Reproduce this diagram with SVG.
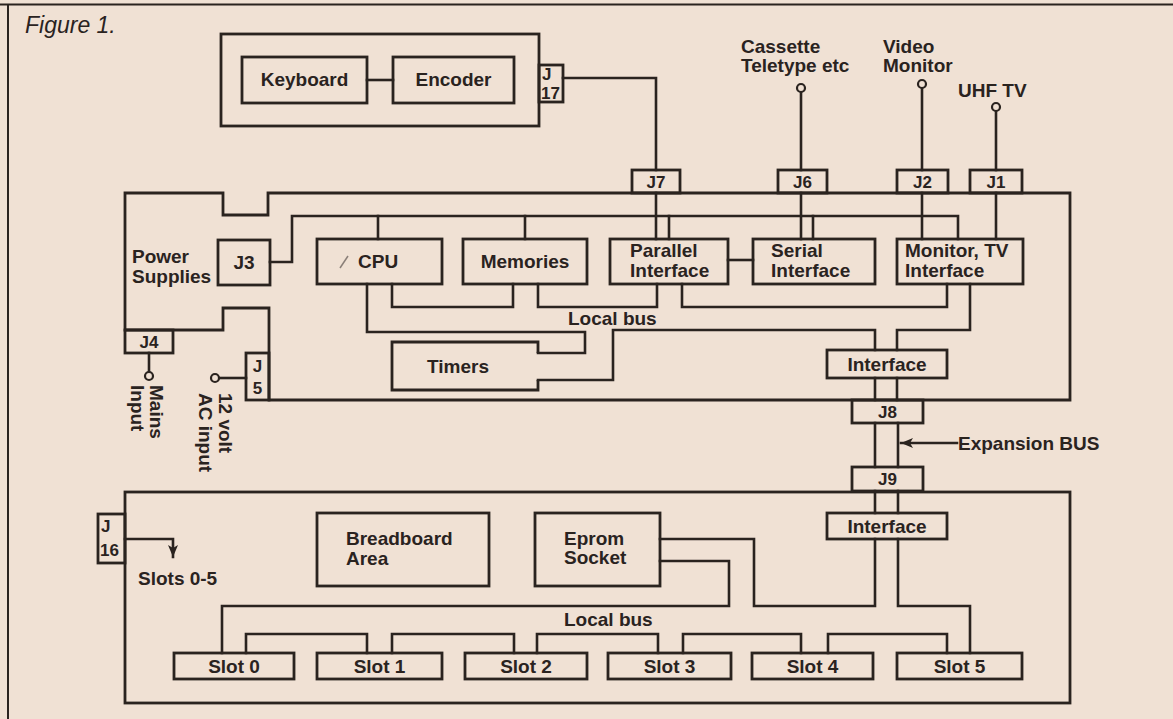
<svg xmlns="http://www.w3.org/2000/svg" width="1173" height="719" viewBox="0 0 1173 719">
<style>
.bg{fill:#f0e1d4}
.ln{fill:none;stroke:#2a231f;stroke-width:2.6;stroke-linejoin:miter;stroke-linecap:square}
.bx{fill:none;stroke:#2a231f;stroke-width:2.8}
.fr{fill:none;stroke:#2a231f;stroke-width:2}
.t{font-family:"Liberation Sans",Arial,Helvetica,sans-serif;font-weight:bold;font-size:19px;fill:#2a231f}
.c{text-anchor:middle}
.j{font-size:17px}
.fig{font-family:"Liberation Sans",Arial,Helvetica,sans-serif;font-style:italic;font-size:23px;fill:#2a231f}
.term{fill:#f0e1d4;stroke:#2a231f;stroke-width:2.2}
</style>
<defs>
<marker id="arr" viewBox="0 0 12 10" refX="12" refY="5" markerWidth="12" markerHeight="10" markerUnits="userSpaceOnUse" orient="auto">
<path d="M0,0 L12,5 L0,10 L3,5 Z" fill="#2a231f"/>
</marker>
</defs>
<rect class="bg" x="0" y="0" width="1173" height="719"/>
<g id="frame">
<path class="fr" d="M0,4.5 H1173 M8,4.5 V719"/>
<text class="fig" x="25" y="33">Figure 1.</text>
</g>

<g id="connectors">
<!-- keyboard to encoder -->
<path class="ln" d="M367,80 H393"/>
<!-- J17 to J7 -->
<path class="ln" d="M563,78 H656 V170"/>
<!-- external terminals -->
<path class="ln" d="M801,92 V170"/>
<path class="ln" d="M922,88 V170"/>
<path class="ln" d="M996,111 V170"/>
<!-- J signal lines into the board -->
<path class="ln" d="M656,193 V239"/>
<path class="ln" d="M801,193 V239"/>
<path class="ln" d="M922,193 V239"/>
<path class="ln" d="M996,193 V239"/>
<!-- power bus from J3 -->
<path class="ln" d="M270,262 H292 V216 H958 V239"/>
<path class="ln" d="M378,216 V239 M525,216 V239 M669,216 V239 M813,216 V239"/>
<!-- parallel to serial -->
<path class="ln" d="M728,260 H753"/>
<!-- local bus upper -->
<path class="ln" d="M392,284 V307 H513 V284"/>
<path class="ln" d="M538,284 V307 H657 V284"/>
<path class="ln" d="M682,284 V307 H947 V284"/>
<path class="ln" d="M367,284 V332 H585 V353 H538"/>
<path class="ln" d="M538,380 H613 V330 H875 V350"/>
<path class="ln" d="M970,284 V330 H897 V350"/>
<!-- expansion bus -->
<path class="ln" d="M875,378 V400 M897,378 V400"/>
<path class="ln" d="M875,423 V467 M898,423 V467"/>
<path class="ln" d="M875,491 V513 M898,491 V513"/>
<path class="ln" d="M957,443 H901" marker-end="url(#arr)"/>
<!-- J4, J5 -->
<path class="ln" d="M149,353 V372"/>
<path class="ln" d="M246,378 H219"/>
<!-- J16 arrow -->
<path class="ln" d="M125,539 H173 V557" marker-end="url(#arr)"/>
<!-- lower local bus -->
<path class="ln" d="M660,539 H754 V606 H875 V539"/>
<path class="ln" d="M660,561 H729 V606 H222 V653"/>
<path class="ln" d="M898,539 V606 H970 V653"/>
<path class="ln" d="M246,653 V634 H367 V653"/>
<path class="ln" d="M392,653 V634 H514 V653"/>
<path class="ln" d="M537,653 V634 H658 V653"/>
<path class="ln" d="M683,653 V634 H801 V653"/>
<path class="ln" d="M828,653 V634 H947 V653"/>
</g>

<g id="keyboard-unit"><rect class="bx" x="221" y="34" width="318" height="92"/></g>
<g id="keyboard"><rect class="bx" x="242" y="57" width="125" height="46"/><text class="t c" x="304.5" y="86">Keyboard</text></g>
<g id="encoder"><rect class="bx" x="393" y="57" width="121" height="46"/><text class="t c" x="453.5" y="86">Encoder</text></g>
<g id="j17"><rect class="bx" x="539" y="65" width="24" height="37"/><text class="t j" x="542" y="80">J</text><text class="t j" x="541" y="99">17</text></g>

<g id="terminals">
<circle class="term" cx="801" cy="88" r="4"/>
<circle class="term" cx="922" cy="84" r="4"/>
<circle class="term" cx="996" cy="107" r="4"/>
<circle class="term" cx="149" cy="376" r="4"/>
<circle class="term" cx="215" cy="378" r="4"/>
<text class="t" x="741" y="53">Cassette</text>
<text class="t" x="741" y="72">Teletype etc</text>
<text class="t" x="883" y="53">Video</text>
<text class="t" x="883" y="72">Monitor</text>
<text class="t" x="958" y="97">UHF TV</text>
<text class="t" transform="translate(150,385) rotate(90)">Mains</text>
<text class="t" transform="translate(131,385) rotate(90)">Input</text>
<text class="t" transform="translate(219,393) rotate(90)">12 volt</text>
<text class="t" transform="translate(199,393) rotate(90)">AC input</text>
</g>

<g id="j7"><rect class="bx" x="632" y="170" width="48" height="23"/><text class="t j c" x="656" y="188">J7</text></g>
<g id="j6"><rect class="bx" x="778" y="170" width="49" height="23"/><text class="t j c" x="802.5" y="188">J6</text></g>
<g id="j2"><rect class="bx" x="897" y="170" width="51" height="23"/><text class="t j c" x="922.5" y="188">J2</text></g>
<g id="j1"><rect class="bx" x="970" y="170" width="52" height="23"/><text class="t j c" x="996" y="188">J1</text></g>

<g id="main-board">
<path class="bx" d="M125,193 H223 V215 H268 V193 H1070 V400 H269 V308 H223 V330 H125 Z"/>
<text class="t" x="132" y="263">Power</text>
<text class="t" x="132" y="283">Supplies</text>
</g>
<g id="j3"><rect class="bx" x="218" y="240" width="52" height="45"/><text class="t c" x="244" y="269">J3</text></g>
<g id="j4"><rect class="bx" x="125" y="330" width="48" height="23"/><text class="t j c" x="149" y="348">J4</text></g>
<g id="j5"><rect class="bx" x="246" y="353" width="23" height="47"/><text class="t j c" x="257.5" y="372">J</text><text class="t j c" x="257.5" y="394">5</text></g>

<g id="cpu"><rect class="bx" x="317" y="239" width="125" height="45"/><path d="M340,268 L348,256" stroke="#8a7f78" stroke-width="1.5"/><text class="t" x="358" y="268">CPU</text></g>
<g id="memories"><rect class="bx" x="463" y="239" width="124" height="45"/><text class="t c" x="525" y="268">Memories</text></g>
<g id="parallel"><rect class="bx" x="610" y="239" width="118" height="45"/><text class="t" x="630" y="257">Parallel</text><text class="t" x="630" y="277">Interface</text></g>
<g id="serial"><rect class="bx" x="753" y="239" width="122" height="45"/><text class="t" x="771" y="257">Serial</text><text class="t" x="771" y="277">Interface</text></g>
<g id="monitor"><rect class="bx" x="897" y="239" width="126" height="45"/><text class="t" x="905" y="257">Monitor, TV</text><text class="t" x="905" y="277">Interface</text></g>
<g id="local-bus-label"><text class="t" x="568" y="325">Local bus</text></g>
<g id="timers"><path class="bx" d="M538,353 V342 H392 V390 H538 V380"/><text class="t c" x="458" y="373">Timers</text></g>
<g id="interface-main"><rect class="bx" x="827" y="350" width="120" height="28"/><text class="t c" x="887" y="371">Interface</text></g>
<g id="j8"><rect class="bx" x="852" y="400" width="71" height="23"/><text class="t j c" x="887.5" y="418">J8</text></g>
<g id="expansion-bus-label"><text class="t" x="958" y="450">Expansion BUS</text></g>
<g id="j9"><rect class="bx" x="852" y="467" width="71" height="24"/><text class="t j c" x="887.5" y="485">J9</text></g>

<g id="expansion-board"><rect class="bx" x="125" y="492" width="945" height="211"/></g>
<g id="interface-exp"><rect class="bx" x="827" y="513" width="120" height="26"/><text class="t c" x="887" y="533">Interface</text></g>
<g id="j16"><rect class="bx" x="98" y="514" width="27" height="49"/><text class="t j" x="101" y="532">J</text><text class="t j" x="100" y="556">16</text></g>
<g id="slots-label"><text class="t" x="138" y="585">Slots 0-5</text></g>
<g id="breadboard"><rect class="bx" x="317" y="513" width="172" height="73"/><text class="t" x="346" y="545">Breadboard</text><text class="t" x="346" y="565">Area</text></g>
<g id="eprom"><rect class="bx" x="535" y="513" width="125" height="73"/><text class="t" x="564" y="545">Eprom</text><text class="t" x="564" y="564">Socket</text></g>
<g id="local-bus-label-2"><text class="t" x="564" y="626">Local bus</text></g>
<g id="slot0"><rect class="bx" x="174" y="653" width="120" height="26"/><text class="t c" x="234" y="673">Slot 0</text></g>
<g id="slot1"><rect class="bx" x="317" y="653" width="125" height="26"/><text class="t c" x="379.5" y="673">Slot 1</text></g>
<g id="slot2"><rect class="bx" x="465" y="653" width="122" height="26"/><text class="t c" x="526" y="673">Slot 2</text></g>
<g id="slot3"><rect class="bx" x="608" y="653" width="123" height="26"/><text class="t c" x="669.5" y="673">Slot 3</text></g>
<g id="slot4"><rect class="bx" x="752" y="653" width="121" height="26"/><text class="t c" x="812.5" y="673">Slot 4</text></g>
<g id="slot5"><rect class="bx" x="897" y="653" width="125" height="26"/><text class="t c" x="959.5" y="673">Slot 5</text></g>
</svg>
